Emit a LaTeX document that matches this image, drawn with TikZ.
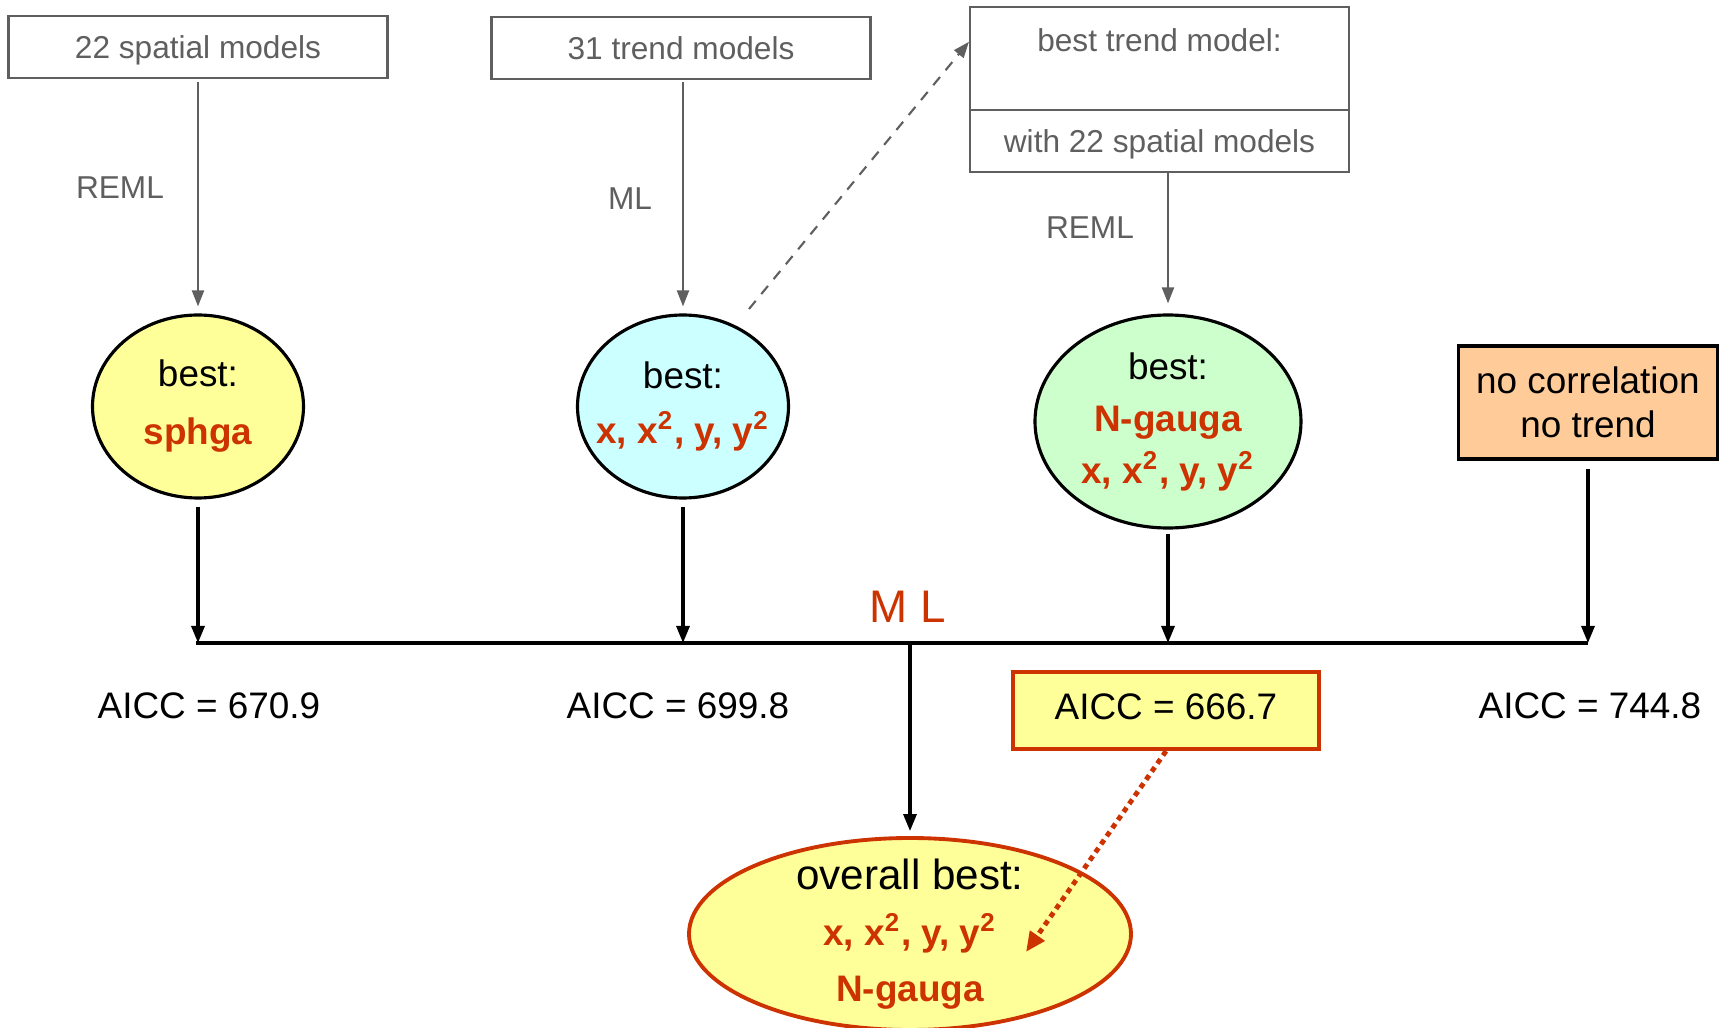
\documentclass[tikz,border=0pt]{standalone}
\usepackage{fontspec}
\setmainfont{Liberation Sans}
\usetikzlibrary{calc}
\usetikzlibrary{arrows.meta}
\usetikzlibrary{positioning}
\usetikzlibrary{shapes.geometric}
\definecolor{slate}{RGB}{95, 95, 95}
\definecolor{rust}{RGB}{204, 51, 0}
\definecolor{lemon}{RGB}{255, 255, 153}
\definecolor{icecyan}{RGB}{204, 255, 255}
\definecolor{mint}{RGB}{204, 255, 204}
\definecolor{apricot}{RGB}{255, 204, 153}
\newcommand{\redbold}[1]{{\bfseries\color{rust}#1}}
\newcommand{\trendterms}{x, x\textsuperscript{2}, y, y\textsuperscript{2}}
\tikzset{
  graybox/.style={draw=slate, line width=0.6pt, minimum width=3.79cm, minimum height=0.62cm,
                  text=slate, text depth=0pt, font=\fontsize{9}{11}\selectfont},
  graytext/.style={text=slate, font=\fontsize{9}{11}\selectfont},
  bestoval/.style={ellipse, draw=black, line width=0.9pt, inner sep=-1cm, align=center,
                   font=\fontsize{10.5}{15.5}\selectfont},
  fitarrow/.style={slate, line width=0.6pt, -{Triangle[length=0.16cm, width=0.12cm]}},
  mlarrow/.style={black, line width=0.9pt, -{Triangle[length=0.17cm, width=0.13cm]}},
  aicc/.style={font=\fontsize{10.5}{12}\selectfont},
}

\begin{document}
\begin{tikzpicture}[y=-1cm]
            \useasboundingbox (0,0) rectangle (17.19,10.28);
            % Candidate models
            \node[graybox] (spatial) at ( 1.98, 0.47) {22 spatial models};
            \node[graybox] (trend)   at ( 6.81, 0.48) {31 trend models};
            \node[graybox, minimum height=1.03cm,
                  label={[graytext, anchor=north, yshift=-0.1cm]north:best trend model:}]
                                    (btmodel) at (11.595, 0.585) {};
            \node[graybox] (withsp)  at (11.595, 1.41) {with 22 spatial models};
            \node[graytext] (reml1)  at ( 1.20, 1.88) {REML};
            \node[graytext] (ml1)    at ( 6.30, 1.99) {ML};
            \node[graytext] (reml2)  at (10.90, 2.28) {REML};
            % Best of each family
            \node[bestoval, fill=lemon,   minimum width=2.11cm, minimum height=1.83cm,
                  font=\fontsize{10.5}{16.5}\selectfont]
                 (sphbest)   at ( 1.98, 4.065) {best:\\\redbold{sphga}};
            \node[bestoval, fill=icecyan, minimum width=2.11cm, minimum height=1.83cm]
                 (trendbest) at ( 6.83, 4.065) {best:\\\redbold{\trendterms}};
            \node[bestoval, fill=mint,    minimum width=2.66cm, minimum height=2.13cm,
                  font=\fontsize{10.5}{14.8}\selectfont]
                 (bothbest)  at (11.68, 4.215) {best:\\\redbold{N-gauga}\\\redbold{\trendterms}};
            \node[draw=black, fill=apricot, line width=1pt, minimum width=2.59cm, minimum height=1.13cm,
                  align=center, font=\fontsize{10.5}{12.5}\selectfont]
                 (nocorr)    at (15.88, 4.025) {no correlation\\no trend};
            % Fitting arrows
            \draw[fitarrow, shorten <=0.03cm, shorten >=0.07cm] (spatial) -- (sphbest);
            \draw[fitarrow, shorten <=0.02cm, shorten >=0.07cm] (trendbest.north |- trend.south) -- (trendbest.north);
            \draw[fitarrow, shorten >=0.10cm] (bothbest.north |- withsp.south) -- (bothbest.north);
            \coordinate (dashfrom) at (7.49, 3.09);
            \draw[slate, line width=0.6pt, dash pattern=on 3pt off 2.5pt,
                  -{Triangle[length=0.16cm, width=0.12cm]}] (dashfrom) -- (btmodel.175);
            % ML comparison line
            \coordinate (busL) at ( 1.96, 6.43);
            \coordinate (busR) at (15.88, 6.43);
            \draw[line width=1pt] (busL) -- (busR);
            \node[text=rust, font=\fontsize{13}{15}\selectfont] (mlbus) at (9.08, 6.07) {M L};
            \draw[mlarrow, shorten <=0.07cm] (sphbest.south)   -- (sphbest.south |- busL);
            \draw[mlarrow, shorten <=0.07cm] (trendbest.south) -- (trendbest.south |- busL);
            \draw[mlarrow, shorten <=0.04cm] (bothbest.south)  -- (bothbest.south |- busL);
            \draw[mlarrow, shorten <=0.08cm] (nocorr.south)    -- (nocorr.south |- busR);
            % AICC values
            \node[aicc] (aicc1) at ( 2.09, 7.06) {AICC = 670.9};
            \node[aicc] (aicc2) at ( 6.78, 7.06) {AICC = 699.8};
            \node[aicc, draw=rust, fill=lemon, line width=1.2pt, minimum width=3.06cm, minimum height=0.77cm,
                  text depth=0.08cm]
                 (aicc3) at (11.66, 7.105) {AICC = 666.7};
            \node[aicc] (aicc4) at (15.90, 7.06) {AICC = 744.8};
            % Overall winner
            \node[bestoval, fill=lemon, draw=rust, line width=1.1pt, minimum width=4.42cm, minimum height=1.92cm,
                  font=\fontsize{10.5}{16}\selectfont]
                 (overall) at (9.10, 9.34) {{\fontsize{12}{14}\selectfont overall best:}\\\redbold{\trendterms}\\\redbold{N-gauga}};
            \draw[mlarrow, shorten >=0.05cm] (overall.north |- busL) -- (overall.north);
            \coordinate (pick) at (10.26, 9.52);
            \draw[rust, line width=1.4pt, dash pattern=on 1.5pt off 1.3pt,
                  -{Triangle[length=0.2cm, width=0.17cm]}] (aicc3.south) -- (pick);
\end{tikzpicture}
\end{document}
